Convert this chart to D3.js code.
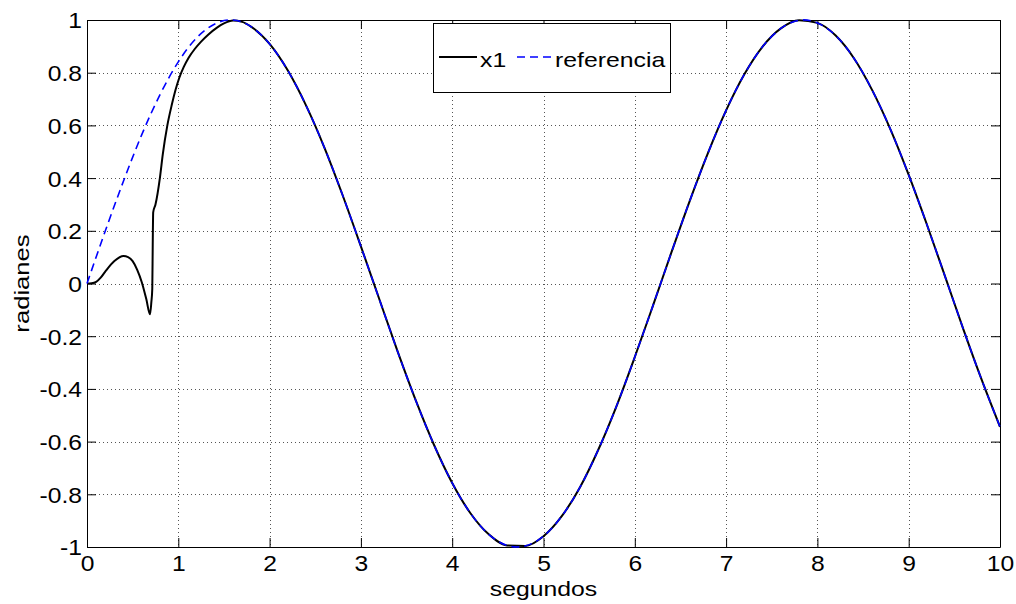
<!DOCTYPE html>
<html lang="es">
<head>
<meta charset="UTF-8">
<title>x1 y referencia</title>
<script src="https://d3js.org/d3.v7.min.js"></script>
<style>
  body { margin: 0; background: #fff; }
  text { font-family: "Liberation Sans", Arial, sans-serif; fill: #000; }
</style>
</head>
<body>
<script>
// tiempos y valores
var refTime = [0,0.2,0.4,0.6,0.8,1.0,1.2,1.4,1.6,1.8,2.0,2.2,2.4,2.6,2.8,3.0,3.2,3.4,3.6,3.8,
  4.0,4.2,4.4,4.6,4.8,5.0,5.2,5.4,5.6,5.8,6.0,6.2,6.4,6.6,6.8,7.0,7.2,7.4,7.6,7.8,
  8.0,8.2,8.4,8.6,8.8,9.0,9.2,9.4,9.6,9.8,10.0];
var refVal = [0,0.199,0.389,0.565,0.717,0.841,0.932,0.985,1.0,0.974,0.909,0.808,0.675,0.516,0.335,0.141,-0.058,-0.256,-0.443,-0.612,
  -0.757,-0.872,-0.952,-0.994,-0.996,-0.959,-0.883,-0.773,-0.631,-0.465,-0.279,-0.083,0.117,0.312,0.494,0.657,0.794,0.899,0.968,0.999,
  0.989,0.941,0.855,0.734,0.585,0.412,0.223,0.025,-0.175,-0.366,-0.544];

var x1Time = [0,0.05,0.1,0.15,0.2,0.3,0.4,0.45,0.5,0.55,0.6,0.65,0.69,0.705,0.715,0.72,0.725,0.75,0.8,0.83,0.88,0.93,0.97,1.01,1.06,1.11,1.18,1.25,1.33,1.42,1.5,1.6,1.7,
  1.8,2.0,2.2,2.4,2.6,2.8,3.0,3.2,3.4,3.6,3.8,
  4.0,4.2,4.4,4.6,4.8,5.0,5.2,5.4,5.6,5.8,6.0,6.2,6.4,6.6,6.8,7.0,7.2,7.4,7.6,7.8,
  8.0,8.2,8.4,8.6,8.8,9.0,9.2,9.4,9.6,9.8,10.0];
var x1Val = [0,0.001,0.006,0.022,0.045,0.085,0.104,0.1,0.085,0.052,0.005,-0.06,-0.117,-0.07,-0.02,0.15,0.27,0.30,0.405,0.49,0.60,0.68,0.735,0.78,0.822,0.855,0.89,0.918,0.945,0.97,0.987,0.998,0.993,
  0.974,0.909,0.808,0.675,0.516,0.335,0.141,-0.058,-0.256,-0.443,-0.612,
  -0.757,-0.872,-0.952,-0.994,-0.996,-0.959,-0.883,-0.773,-0.631,-0.465,-0.279,-0.083,0.117,0.312,0.494,0.657,0.794,0.899,0.968,0.999,
  0.989,0.941,0.855,0.734,0.585,0.412,0.223,0.025,-0.175,-0.366,-0.544];

var xTicks = [0,1,2,3,4,5,6,7,8,9,10];
var yTicks = [-1,-0.8,-0.6,-0.4,-0.2,0,0.2,0.4,0.6,0.8,1];
var seriesNames = ['x1','referencia'];

var width = 1016, height = 604;
var margin = {left:87, right:16, top:20, bottom:57};
var stretch = 1.12; // las letras de la figura son algo mas anchas que Arial

var svg = d3.select('body').append('svg')
  .attr('width', width)
  .attr('height', height);

var x = d3.scaleLinear().domain([0,10]).range([margin.left, width - margin.right]);
var y = d3.scaleLinear().domain([-1,1]).range([height - margin.bottom, margin.top]);

function widen(sel, k) {
  sel.each(function () {
    var w = this.getComputedTextLength();
    d3.select(this).attr('textLength', w * (k || stretch)).attr('lengthAdjust', 'spacingAndGlyphs');
  });
}

// fondo blanco del area
svg.append('rect')
  .attr('x', x(0)).attr('y', y(1))
  .attr('width', x(10) - x(0)).attr('height', y(-1) - y(1))
  .attr('fill', '#fff');

// rejilla punteada
var grid = svg.append('g').attr('stroke', '#555').attr('stroke-width', 1).attr('stroke-dasharray', '1,3');
grid.selectAll('.gx').data(xTicks.slice(1, -1)).enter().append('line')
  .attr('x1', function (d) { return Math.round(x(d)) + 0.5; })
  .attr('x2', function (d) { return Math.round(x(d)) + 0.5; })
  .attr('y1', y(1)).attr('y2', y(-1));
grid.selectAll('.gy').data(yTicks.slice(1, -1)).enter().append('line')
  .attr('y1', function (d) { return Math.round(y(d)) + 0.5; })
  .attr('y2', function (d) { return Math.round(y(d)) + 0.5; })
  .attr('x1', x(0)).attr('x2', x(10));

// ejes con marcas hacia dentro en los cuatro lados
var fmt = function (d) { return d3.format('')(d).replace('−', '-'); };
var axB = svg.append('g').attr('transform', 'translate(0,' + y(-1) + ')')
  .call(d3.axisBottom(x).tickValues(xTicks).tickSizeInner(-9).tickSizeOuter(0).tickPadding(14).tickFormat(fmt));
var axT = svg.append('g').attr('transform', 'translate(0,' + y(1) + ')')
  .call(d3.axisTop(x).tickValues(xTicks).tickSizeInner(-9).tickSizeOuter(0).tickFormat(''));
var axL = svg.append('g').attr('transform', 'translate(' + x(0) + ',0)')
  .call(d3.axisLeft(y).tickValues(yTicks).tickSizeInner(-9).tickSizeOuter(0).tickPadding(14).tickFormat(fmt));
var axR = svg.append('g').attr('transform', 'translate(' + x(10) + ',0)')
  .call(d3.axisRight(y).tickValues(yTicks).tickSizeInner(-9).tickSizeOuter(0).tickFormat(''));

[axB, axT, axL, axR].forEach(function (a) {
  a.selectAll('path, line').attr('stroke', '#000').attr('stroke-width', 1);
});
axB.selectAll('text').attr('font-size', '22px').attr('dy', '0.71em').attr('y', 8)
  .style('font-family', '"Liberation Sans", Arial, sans-serif').attr('fill', '#000');
axL.selectAll('text').attr('font-size', '22px').attr('dy', '0.36em').attr('x', -5)
  .style('font-family', '"Liberation Sans", Arial, sans-serif').attr('fill', '#000');
widen(axB.selectAll('text'));
widen(axL.selectAll('text'));

// curvas
var lineX1 = d3.line()
  .x(function (d, i) { return x(x1Time[i]); })
  .y(function (d) { return y(d); })
  .curve(d3.curveMonotoneX);
var lineRef = d3.line()
  .x(function (d, i) { return x(refTime[i]); })
  .y(function (d) { return y(d); })
  .curve(d3.curveNatural);

svg.append('path').datum(x1Val)
  .attr('d', lineX1)
  .attr('fill', 'none').attr('stroke', '#000').attr('stroke-width', 2);
svg.append('path').datum(refVal)
  .attr('d', lineRef)
  .attr('fill', 'none').attr('stroke', '#0000ff').attr('stroke-width', 1.6)
  .attr('stroke-dasharray', '8,5');

// titulos de los ejes
var xl = svg.append('text')
  .attr('x', (x(0) + x(10)) / 2).attr('y', 596)
  .attr('text-anchor', 'middle').attr('font-size', '21px')
  .text('segundos');
widen(xl, 1.18);
var yl = svg.append('text')
  .attr('transform', 'translate(29,' + ((y(1) + y(-1)) / 2) + ') rotate(-90)')
  .attr('text-anchor', 'middle').attr('font-size', '21px')
  .text('radianes');
widen(yl, 1.22);

// leyenda
var leg = svg.append('g');
leg.append('rect')
  .attr('x', 433.5).attr('y', 23.5).attr('width', 237).attr('height', 69)
  .attr('fill', '#fff').attr('stroke', '#000').attr('stroke-width', 1);
leg.append('line').attr('x1', 439).attr('x2', 477).attr('y1', 57).attr('y2', 57)
  .attr('stroke', '#000').attr('stroke-width', 2);
leg.append('line').attr('x1', 517).attr('x2', 551).attr('y1', 57).attr('y2', 57)
  .attr('stroke', '#0000ff').attr('stroke-width', 1.6).attr('stroke-dasharray', '8,5');
var lt = leg.selectAll('.lt').data(seriesNames).enter().append('text')
  .attr('x', function (d, i) { return i === 0 ? 480 : 555; })
  .attr('y', 67)
  .attr('font-size', '21px')
  .text(function (d) { return d; });
widen(lt, 1.18);
</script>
</body>
</html>
